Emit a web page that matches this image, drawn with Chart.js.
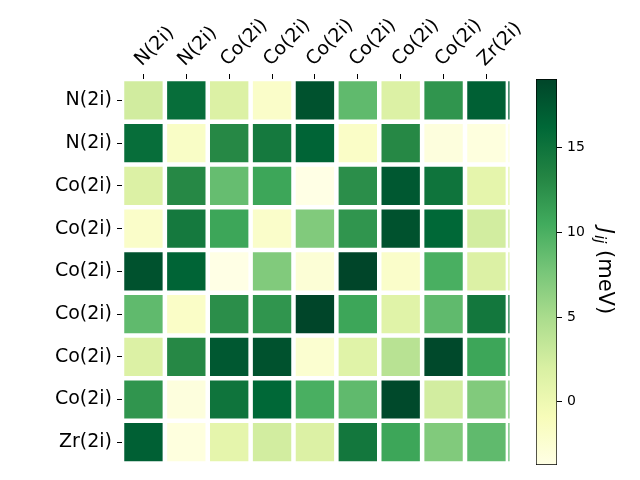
<!DOCTYPE html>
<html><head><meta charset="utf-8">
<script src="https://cdn.jsdelivr.net/npm/chart.js@4"></script>
<style>
html,body{margin:0;padding:0;background:#fff;}
#wrap{position:relative;width:640px;height:480px;background:#fff;}
canvas{position:absolute;left:0;top:0;}
</style></head><body>
<div id="wrap"><canvas id="hm" width="640" height="480"></canvas><canvas id="cb" width="640" height="480"></canvas></div>
<script>
// ---- data ----
const rowLabels = ['N(2i)','N(2i)','Co(2i)','Co(2i)','Co(2i)','Co(2i)','Co(2i)','Co(2i)','Zr(2i)'];
const colLabels = ['N(2i)','N(2i)','Co(2i)','Co(2i)','Co(2i)','Co(2i)','Co(2i)','Co(2i)','Zr(2i)'];
const row0 = [2.5, 15.6, 1.7, -1.9, 18.0, 8.9, 1.7, 12.1, 16.9];
const row1 = [15.6, -1.7, 13.1, 14.5, 16.5, -1.8, 13.1, -3.2, -3.3];
const row2 = [1.7, 13.1, 8.6, 10.9, -3.74, 12.6, 17.5, 15.0, 0.8];
const row3 = [-1.9, 14.5, 10.9, -2.0, 7.2, 12.1, 18.0, 16.2, 2.4];
const row4 = [18.0, 16.5, -3.74, 7.2, -2.8, 19.06, -2.0, 10.1, 1.7];
const row5 = [8.9, -1.8, 12.6, 12.1, 19.06, 10.9, 1.3, 8.9, 14.7];
const row6 = [1.7, 13.1, 17.5, 18.0, -2.4, 1.3, 4.1, 18.7, 10.9];
const row7 = [12.1, -3.2, 15.0, 16.2, 10.1, 8.9, 18.7, 2.4, 7.2];
const row8 = [16.9, -3.3, 0.8, 2.4, 1.7, 14.7, 10.9, 7.2, 8.9];
const matrix = [row0,row1,row2,row3,row4,row5,row6,row7,row8];
const vmin = -3.74, vmax = 19.06;
const colorbarTicks = [0, 5, 10, 15];

// ---- colormap (YlGn) ----
const ylgn = [[255,255,229],[247,252,185],[217,240,163],[173,221,142],[120,198,121],[65,171,93],[35,132,67],[0,104,55],[0,69,41]];
function cmapT(t){
  t = Math.max(0, Math.min(1, t));
  const s = t*8, i = Math.min(7, Math.floor(s)), f = s - i;
  const a = ylgn[i], b = ylgn[i+1];
  return 'rgb(' + a.map((v,k)=>Math.round(v + (b[k]-v)*f)).join(',') + ')';
}
const colorFor = v => cmapT((v - vmin)/(vmax - vmin));

const half = 0.4475;
const datasets = [];
matrix.forEach((row, r) => {
  datasets.push({
    data: row.map((v, c) => ({x: c, y: [r - half, r + half]})),
    backgroundColor: row.map(colorFor),
    borderWidth: 0, barPercentage: 0.895, categoryPercentage: 1, grouped: false
  });
});
// edge sliver of the last column (artifact visible at right edge in the reference)
matrix.forEach((row, r) => {
  datasets.push({
    data: [{x: row.length, y: [r - half, r + half]}],
    backgroundColor: colorFor(row[row.length - 1]),
    borderWidth: 0, barPercentage: 0.98, categoryPercentage: 1, grouped: false
  });
});

const FONT = 'DejaVu Sans';
new Chart(document.getElementById('hm'), {
  type: 'bar',
  data: {datasets},
  options: {
    responsive: false, animation: false, events: [],
    layout: {padding: {left: 0, top: 0, right: 130.5, bottom: 15}},
    plugins: {legend: {display: false}, tooltip: {enabled: false}},
    scales: {
      x: {
        type: 'linear', position: 'top', min: -0.5, max: 8.538, offset: false,
        afterBuildTicks: s => { s.ticks = colLabels.map((_, i) => ({value: i})); },
        afterFit: s => { s.height = 79; },
        ticks: {callback: v => colLabels[v], autoSkip: false, minRotation: 45, maxRotation: 45,
                color: '#000', font: {family: FONT, size: 19}, padding: 3, labelOffset: 11},
        grid: {offset: false, drawOnChartArea: false, tickLength: 5, tickColor: '#000', tickWidth: 1},
        border: {display: false}
      },
      y: {
        type: 'linear', reverse: true, min: -0.5, max: 8.5, offset: false,
        afterBuildTicks: s => { s.ticks = rowLabels.map((_, i) => ({value: i})); },
        afterFit: s => { s.width = 122; },
        ticks: {callback: v => rowLabels[v], autoSkip: false, color: '#000',
                font: {family: FONT, size: 19}, padding: 5},
        grid: {offset: false, drawOnChartArea: false, tickLength: 5, tickColor: '#000', tickWidth: 1},
        border: {display: false}
      }
    }
  }
});

// ---- colorbar ----
function gradientFill(ctx){
  const chart = ctx.chart, area = chart.chartArea;
  if (!area) return null;
  const g = chart.ctx.createLinearGradient(0, area.bottom, 0, area.top);
  ylgn.forEach((c, i) => g.addColorStop(i/8, 'rgb(' + c.join(',') + ')'));
  return g;
}
const cbTitle = {
  id: 'cbTitle',
  afterDraw(chart){
    const ctx = chart.ctx;
    ctx.save();
    ctx.translate(604, 271);
    ctx.rotate(Math.PI/2);
    ctx.fillStyle = '#000';
    ctx.textBaseline = 'middle';
    const big = 'italic 21px ' + FONT, sub = 'italic 15px ' + FONT, norm = '21px ' + FONT;
    ctx.font = big; const wJ = ctx.measureText('J').width;
    ctx.font = sub; const wij = ctx.measureText('ij').width;
    ctx.font = norm; const wm = ctx.measureText(' (meV)').width;
    let x = -(wJ + wij + 1 + wm)/2;
    ctx.font = big; ctx.fillText('J', x, 0); x += wJ + 1;
    ctx.font = sub; ctx.fillText('ij', x, 5); x += wij;
    ctx.font = norm; ctx.fillText(' (meV)', x, 0);
    ctx.restore();
  }
};
new Chart(document.getElementById('cb'), {
  type: 'bar',
  data: {labels: ['J'], datasets: [{data: [[vmin, vmax]], backgroundColor: gradientFill,
    borderColor: '#000', borderWidth: 1, borderSkipped: false, barPercentage: 1, categoryPercentage: 1}]},
  options: {
    responsive: false, animation: false, events: [],
    layout: {padding: {left: 536, top: 79, right: 0, bottom: 15}},
    plugins: {legend: {display: false}, tooltip: {enabled: false}},
    scales: {
      x: {display: false},
      y: {
        position: 'right', min: vmin, max: vmax,
        afterBuildTicks: s => { s.ticks = colorbarTicks.map(v => ({value: v})); },
        afterFit: s => { s.width = 83; },
        ticks: {color: '#000', font: {family: FONT, size: 14}, padding: 5},
        grid: {drawOnChartArea: false, tickLength: 5, tickColor: '#000', tickWidth: 1},
        border: {display: false}
      }
    }
  },
  plugins: [cbTitle]
});
</script>
</body></html>
